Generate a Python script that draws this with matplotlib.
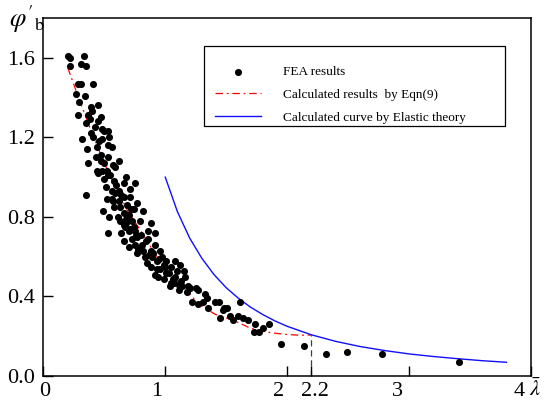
import matplotlib
matplotlib.use("Agg")
import matplotlib.pyplot as plt
import matplotlib.transforms as mtransforms
from matplotlib.patches import Rectangle

plt.rcParams["font.family"] = ["Liberation Serif", "DejaVu Serif"]
plt.rcParams["mathtext.fontset"] = "stix"

# FEA results
fea_x = [0.20, 0.22, 0.33, 0.31, 0.35, 0.22, 0.28, 0.31, 0.41, 0.27, 0.34, 0.29,
         0.45, 0.39, 0.40, 0.28, 0.37, 0.38, 0.47, 0.45, 0.35, 0.48, 0.50, 0.53,
         0.54, 0.41, 0.32, 0.48, 0.53, 0.56, 0.44, 0.36, 0.43, 0.47, 0.53, 0.37,
         0.47, 0.50, 0.57, 0.62, 0.59, 0.44, 0.48, 0.52, 0.45, 0.53, 0.68, 0.50,
         0.66, 0.75, 0.51, 0.56, 0.71, 0.59, 0.35, 0.66, 0.71, 0.52, 0.56, 0.62,
         0.77, 0.58, 0.63, 0.74, 0.49, 0.82, 0.66, 0.70, 0.54, 0.61, 0.63, 0.73,
         0.79, 0.88, 0.66, 0.74, 0.68, 0.53, 0.67, 0.71, 0.64, 0.70, 0.75, 0.86,
         0.92, 0.66, 0.73, 0.77, 0.86, 0.75, 0.81, 0.70, 0.78, 0.92, 0.96, 0.77,
         0.88, 0.83, 0.89, 0.97, 0.85, 0.93, 1.01, 1.08, 0.88, 0.96, 1.05, 1.12,
         0.92, 1.01, 1.10, 0.99, 1.07, 1.11, 1.04, 0.93, 1.00, 1.15, 0.94, 1.08,
         1.16, 1.05, 1.14, 1.19, 1.25, 1.27, 1.11, 1.18, 1.33, 1.34, 1.22, 1.27,
         1.31, 1.41, 1.35, 1.48, 1.45, 1.53, 1.56, 1.44, 1.47, 1.51, 1.61, 1.60,
         1.64, 1.68, 1.74, 1.80, 1.85, 1.73, 1.77, 1.95, 2.14, 2.32, 2.49, 2.78,
         3.41,
         0.60, 0.64, 0.69, 0.58, 0.62, 0.72, 0.80, 0.84, 0.90, 0.95, 0.99, 1.03,
         0.57, 0.68, 0.76, 0.82, 0.87, 1.06, 1.13, 1.20, 0.42, 0.46, 0.39, 0.55]
fea_y = [1.61, 1.60, 1.61, 1.57, 1.56, 1.56, 1.47, 1.47, 1.47, 1.42, 1.41, 1.38,
         1.36, 1.35, 1.33, 1.31, 1.31, 1.29, 1.30, 1.28, 1.27, 1.24, 1.23, 1.23,
         1.20, 1.20, 1.19, 1.19, 1.16, 1.15, 1.15, 1.14, 1.10, 1.11, 1.10, 1.07,
         1.08, 1.07, 1.06, 1.08, 1.05, 1.03, 1.03, 1.03, 1.02, 1.01, 1.00, 0.99,
         0.97, 0.97, 0.95, 0.93, 0.94, 0.92, 0.91, 0.90, 0.90, 0.89, 0.89, 0.88,
         0.87, 0.85, 0.85, 0.84, 0.83, 0.83, 0.82, 0.81, 0.80, 0.80, 0.78, 0.78,
         0.78, 0.77, 0.76, 0.75, 0.79, 0.72, 0.75, 0.74, 0.72, 0.73, 0.73, 0.73,
         0.72, 0.68, 0.69, 0.70, 0.69, 0.66, 0.66, 0.65, 0.64, 0.66, 0.63, 0.62,
         0.63, 0.60, 0.60, 0.60, 0.57, 0.58, 0.58, 0.58, 0.55, 0.54, 0.55, 0.56,
         0.51, 0.52, 0.53, 0.49, 0.47, 0.46, 0.45, 0.54, 0.55, 0.53, 0.50, 0.50,
         0.50, 0.47, 0.45, 0.45, 0.44, 0.43, 0.43, 0.42, 0.41, 0.39, 0.37, 0.36,
         0.37, 0.37, 0.34, 0.34, 0.29, 0.30, 0.28, 0.37, 0.33, 0.34, 0.37, 0.30,
         0.29, 0.28, 0.26, 0.24, 0.26, 0.22, 0.22, 0.16, 0.15, 0.11, 0.12, 0.11,
         0.07,
         0.96, 0.91, 0.86, 0.98, 0.93, 0.84, 0.71, 0.68, 0.62, 0.59, 0.56, 0.52,
         0.88, 0.77, 0.71, 0.63, 0.61, 0.49, 0.48, 0.44, 1.25, 1.18, 1.22, 1.01]

# Calculated results by Eqn(9)
eqn_x = [0.20, 0.30, 0.40, 0.50, 0.60, 0.70, 0.80, 0.92, 1.00, 1.14, 1.28,
         1.41, 1.56, 1.70, 1.84, 1.97, 2.10, 2.20]
eqn_y = [1.55, 1.38, 1.22, 1.07, 0.94, 0.82, 0.73, 0.61, 0.55, 0.45, 0.36,
         0.31, 0.28, 0.24, 0.22, 0.21, 0.205, 0.206]

# Calculated curve by Elastic theory
el_x = [1.0, 1.1, 1.2, 1.3, 1.4, 1.5, 1.6, 1.7, 1.8, 1.9, 2.0, 2.2, 2.4, 2.6,
        2.8, 3.0, 3.2, 3.4, 3.6, 3.8]
el_y = [1.00, 0.826, 0.694, 0.592, 0.510, 0.444, 0.391, 0.346, 0.309, 0.277,
        0.250, 0.207, 0.174, 0.148, 0.128, 0.111, 0.098, 0.087, 0.077, 0.069]

x_ticks = [0, 1, 2, 2.2, 3, 4]
x_labels = ["0", "1", "2", "2.2", "3", "4"]
x_label_shift = [1, -6.5, -6.3, 2.4, -8.4, -8.6]
y_ticks = [0.0, 0.4, 0.8, 1.2, 1.6]

W, H = 545, 405
fig = plt.figure(figsize=(5.45, 4.05), dpi=100)
ax = fig.add_axes([0.0796, 0.0716, 0.8944, 0.884])

ax.scatter(fea_x, fea_y, s=26, color="black", linewidths=0, label="FEA results", zorder=3)
ax.plot(eqn_x, eqn_y, color="red", lw=0.9, linestyle=(0, (6, 3, 1.5, 3)),
        label="Calculated results  by Eqn(9)", zorder=2)
ax.plot(el_x, el_y, color="#1010ff", lw=1.0, label="Calculated curve by Elastic theory", zorder=2)
ax.plot([2.2, 2.2], [0, 0.207], color="#404040", lw=0.9, linestyle=(0, (5, 3)), zorder=1)

ax.set_xlim(0, 4)
ax.set_ylim(0, 1.8)
ax.set_xticks(x_ticks)
ax.set_xticklabels(x_labels)
ax.set_yticks(y_ticks)
ax.set_yticklabels(["%.1f" % v for v in y_ticks])
ax.tick_params(direction="in", length=7, width=1, labelsize=16)
ax.tick_params(axis="x", pad=4)
ax.tick_params(axis="y", pad=6)
for sp in ax.spines.values():
    sp.set_linewidth(1.1)

for lab, dx in zip(ax.get_xticklabels(), x_label_shift):
    lab.set_transform(lab.get_transform() + mtransforms.ScaledTranslation(dx / 72, 0, fig.dpi_scale_trans))

fig.text(9 / W, 1 - 19 / H, r"$\varphi'_{\mathrm{b}}$", fontsize=19, ha="left", va="center")
fig.text(535 / W, 1 - 390 / H, r"$\bar{\lambda}$", fontsize=16, ha="center", va="center")

# legend box drawn separately so padding matches the original
fig.patches.append(Rectangle((204 / W, 1 - 126 / H), 301 / W, 80 / H, transform=fig.transFigure,
                             fill=False, edgecolor="black", lw=0.9, zorder=5))
leg = ax.legend(loc="upper left", bbox_to_anchor=(215 / W, 1 - 66 / H),
                bbox_transform=fig.transFigure, borderaxespad=0, borderpad=0,
                fontsize=9.5, frameon=False, scatterpoints=1, handlelength=3.5,
                handletextpad=1.65, labelspacing=0.8)

fig.savefig("out.png", dpi=100)
